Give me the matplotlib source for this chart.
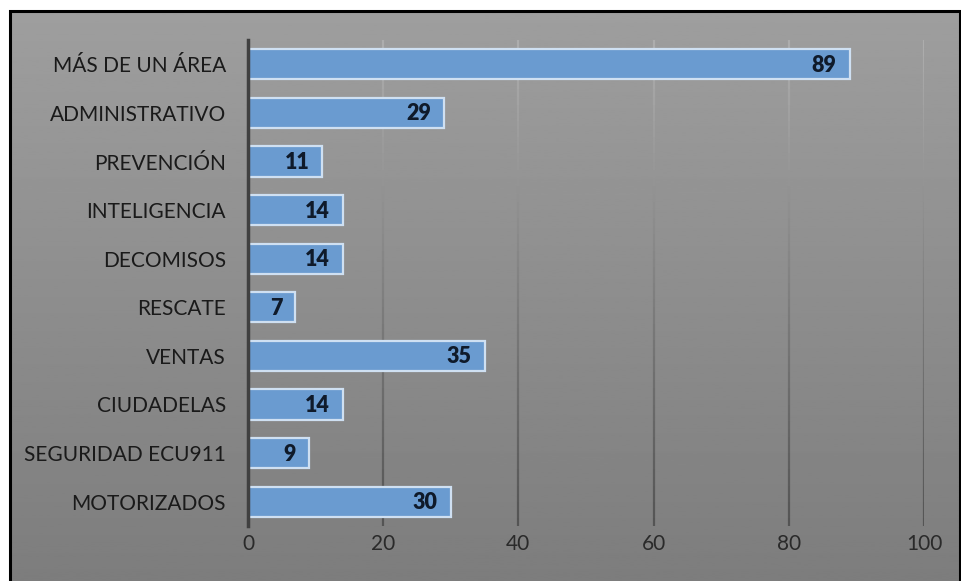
import numpy as np
import matplotlib.pyplot as plt
from matplotlib.collections import LineCollection
from matplotlib.patches import Rectangle

# datos
categorias = ['MOTORIZADOS', 'SEGURIDAD ECU911', 'CIUDADELAS', 'VENTAS', 'RESCATE',
              'DECOMISOS', 'INTELIGENCIA', 'PREVENCIÓN', 'ADMINISTRATIVO', 'MÁS DE UN ÁREA']
valores = [30, 9, 14, 35, 7, 14, 14, 11, 29, 89]
ticks_x = [0, 20, 40, 60, 80, 100]

plt.rcParams['font.family'] = ['Lato', 'DejaVu Sans']

fig = plt.figure(figsize=(9.61, 5.81), dpi=100)
fig.patch.set_facecolor('white')

# fondo degradado
W, H = 961, 581
bg = fig.add_axes([10 / W, 0, 1 - 11 / W, 1 - 11 / H])
bg.imshow(np.linspace(0.62, 0.49, 256).reshape(-1, 1), aspect='auto', cmap='gray',
          vmin=0, vmax=1, extent=[0, 1, 1, 0])
bg.set_xlim(0, 1)
bg.set_ylim(1, 0)
bg.axis('off')
bg.add_patch(Rectangle((0, -0.05), 1, 1.05, transform=bg.transAxes, fill=False,
                       edgecolor='black', linewidth=2.2, clip_on=False))

ax = fig.add_axes([248 / W, 1 - 526 / H, (924 - 248) / W, (526 - 40) / H])
ax.patch.set_alpha(0)

y = np.arange(len(categorias))
ax.set_xlim(0, 100)
ax.set_ylim(-0.5, len(categorias) - 0.5)

# lineas de cuadricula con degradado
n = 60
for t in ticks_x[1:]:
    ys = np.linspace(-0.5, len(categorias) - 0.5, n + 1)
    segs = [[(t, ys[i]), (t, ys[i + 1])] for i in range(n)]
    c = np.linspace(0.33, 0.68, n)
    cols = [(v, v, v) for v in c]
    ax.add_collection(LineCollection(segs, colors=cols, linewidths=1.6, zorder=1))

bars = ax.barh(y, valores, height=0.62, color='#6a9bd0', edgecolor='#cfe0f2',
               linewidth=1.6, zorder=3)

for yi, v in zip(y, valores):
    ax.annotate(str(v), xy=(v, yi), xytext=(-13, -1), textcoords='offset pixels',
                ha='right', va='center', fontsize=15.5, fontweight='heavy',
                color='#0f1a2a', zorder=4)

ax.set_yticks(y)
ax.set_yticklabels(categorias, fontsize=15, color='#1a1a1a')
ax.set_xticks(ticks_x)
ax.set_xticklabels([str(t) for t in ticks_x], fontsize=15, color='#2a2a2a')
ax.tick_params(axis='both', length=0)
ax.tick_params(axis='y', pad=16)
ax.tick_params(axis='x', pad=6)

for s in ['top', 'right', 'bottom']:
    ax.spines[s].set_visible(False)
ax.spines['left'].set_color('#404040')
ax.spines['left'].set_linewidth(2.5)
ax.spines['left'].set_zorder(5)

fig.savefig('out.png', dpi=100)
